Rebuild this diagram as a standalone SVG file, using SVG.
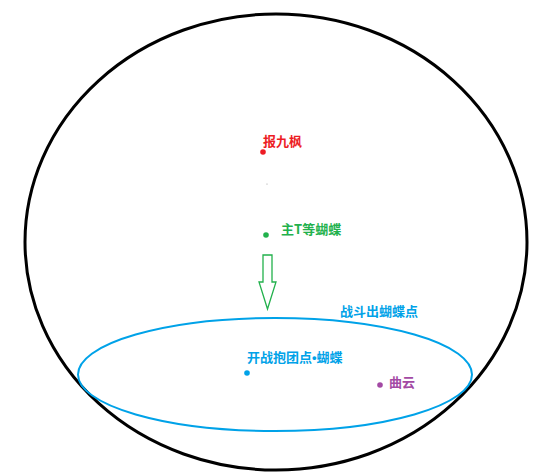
<svg xmlns="http://www.w3.org/2000/svg" width="555" height="476" viewBox="0 0 555 476">
<style>
text{font-family:"Noto Sans CJK SC","Noto Sans",sans-serif;font-size:13px;font-weight:bold}
.latin{font-family:"Liberation Sans",sans-serif}
.red{fill:#ed1c24}.green{fill:#22b14c}.blue{fill:#00a2e8}.purple{fill:#a349a4}
</style>
<rect width="555" height="476" fill="#fff"/>
<g id="outer">
<ellipse cx="276" cy="242" rx="251" ry="228" fill="none" stroke="#000" stroke-width="3"/>
</g>
<g id="zone">
<ellipse cx="275" cy="374.5" rx="197" ry="56.5" fill="none" stroke="#00a2e8" stroke-width="2"/>
<text class="blue" x="340" y="316">战斗出蝴蝶点</text>
</g>
<g id="node-baojiufeng">
<circle class="red" cx="263" cy="152" r="2.8"/>
<text class="red" x="263" y="146">报九枫</text>
</g>
<g id="speck">
<circle cx="267" cy="184" r="0.6" fill="#999"/>
</g>
<g id="node-mt">
<circle class="green" cx="266" cy="235" r="2.8"/>
<text class="green" x="281" y="234">主T等蝴蝶</text>
</g>
<g id="node-start">
<circle class="blue" cx="247" cy="373" r="2.8"/>
<text class="blue" x="247" y="362">开战抱团点<tspan class="latin">•</tspan>蝴蝶</text>
</g>
<g id="node-quyun">
<circle class="purple" cx="380" cy="385" r="2.8"/>
<text class="purple" x="389" y="387">曲云</text>
</g>
<g id="connectors">
<path d="M263,255 H272 V282 H276 L267.5,309 L259,282 H263 Z" fill="none" stroke="#22b14c" stroke-width="1.3"/>
</g>
</svg>
